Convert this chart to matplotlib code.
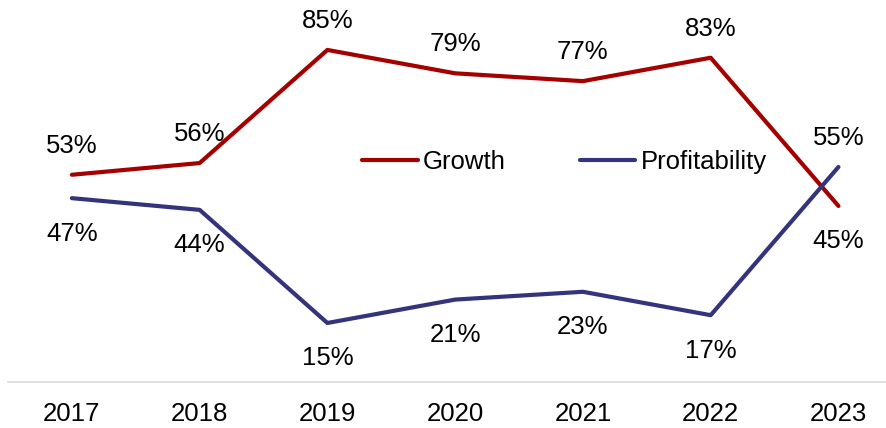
import matplotlib
matplotlib.use("Agg")
import matplotlib.pyplot as plt

years = ["2017", "2018", "2019", "2020", "2021", "2022", "2023"]
growth = [53, 56, 85, 79, 77, 83, 45]
profitability = [47, 44, 15, 21, 23, 17, 55]

RED = "#A50000"
BLUE = "#34347C"
FS = 18.5

plt.rcParams["font.family"] = ["Liberation Sans", "DejaVu Sans"]

fig = plt.figure(figsize=(8.87, 4.28), dpi=100)
ax = fig.add_axes([8 / 887, 46.5 / 428, 879 / 887, 381.5 / 428])

x = list(range(len(years)))
ax.plot(x, growth, color=RED, lw=3, solid_capstyle="round", label="Growth")
ax.plot(x, profitability, color=BLUE, lw=3, solid_capstyle="round", label="Profitability")

# growth labels sit above the line, profitability below (swapped where they cross)
for i, (g, p) in enumerate(zip(growth, profitability)):
    g_up = g >= p
    ax.annotate(f"{g}%", (i, g), xytext=(0, 21 if g_up else -25.5), textcoords="offset points",
                ha="center", va="center", fontsize=FS)
    ax.annotate(f"{p}%", (i, p), xytext=(0, -25.5 if g_up else 21), textcoords="offset points",
                ha="center", va="center", fontsize=FS)

ax.set_xlim(-0.5, 6.38)
ax.set_ylim(0, 97.8)
ax.set_xticks(x)
ax.set_xticklabels(years, fontsize=FS)
ax.tick_params(axis="x", length=0, pad=15)
ax.set_yticks([])
for side in ["top", "right", "left"]:
    ax.spines[side].set_visible(False)
ax.spines["bottom"].set_color("#D9D9D9")
ax.spines["bottom"].set_linewidth(1.2)

ax.legend(loc="center", bbox_to_anchor=(0.633, 0.575), ncol=2, frameon=False,
          fontsize=FS, handlelength=2.15, handletextpad=0.2, columnspacing=2.9)

fig.savefig("out.png", dpi=100)
